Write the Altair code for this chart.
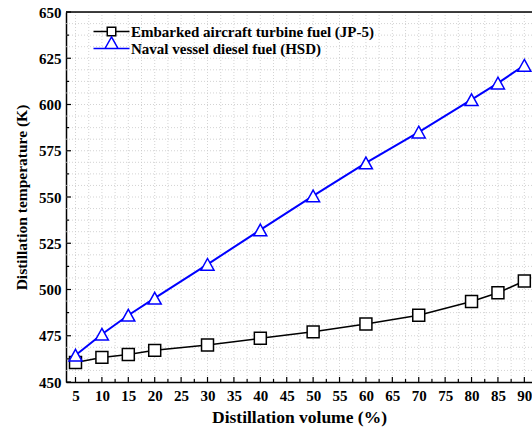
import altair as alt
import pandas as pd

# Distillation curves of the two fuels
volume = [5, 10, 15, 20, 30, 40, 50, 60, 70, 80, 85, 90]
jp5_temp = [460.5, 463.3, 464.9, 467.1, 470.0, 473.6, 477.1, 481.4, 486.1, 493.5, 498.2, 504.6]
hsd_temp = [464.5, 475.8, 486.1, 495.3, 513.6, 532.2, 550.6, 568.4, 585.1, 602.6, 611.6, 621.2]

fuel_names = ["Embarked aircraft turbine fuel (JP-5)", "Naval vessel diesel fuel (HSD)"]
fuel_colors = ["#000000", "#0000ff"]

# Axis ticks and grid positions
x_major = [5, 10, 15, 20, 25, 30, 35, 40, 45, 50, 55, 60, 65, 70, 75, 80, 85, 90]
x_minor = [7.5, 12.5, 17.5, 22.5, 27.5, 32.5, 37.5, 42.5, 47.5, 52.5, 57.5, 62.5,
           67.5, 72.5, 77.5, 82.5, 87.5]
y_major = [450, 475, 500, 525, 550, 575, 600, 625, 650]
y_minor = [462.5, 487.5, 512.5, 537.5, 562.5, 587.5, 612.5, 637.5]
x_grid = [5 + 2.5 * i for i in range(35)]
y_grid = [450 + 6.25 * i for i in range(1, 32)]

W, H = 466, 370
FONT = "Liberation Serif"

x_scale = alt.Scale(domain=[3.2, 91.45], nice=False, zero=False)
y_scale = alt.Scale(domain=[450, 650], nice=False, zero=False)

x_axis = alt.Axis(
    values=x_major, title="Distillation volume (%)", grid=False, ticks=False,
    domainColor="black", domainWidth=1.5, labelFont=FONT, labelFontSize=15,
    labelFontWeight="bold", labelColor="black", labelPadding=6, labelFlush=False,
    labelOverlap=False, titleFont=FONT, titleFontSize=17.5, titleFontWeight="bold",
    titleColor="black", titlePadding=5,
)
y_axis = alt.Axis(
    values=y_major, title="Distillation temperature (K)", grid=False, ticks=False,
    domainColor="black", domainWidth=1.5, labelFont=FONT, labelFontSize=15,
    labelFontWeight="bold", labelColor="black", labelPadding=5, labelFlush=False,
    labelOverlap=False, titleFont=FONT, titleFontSize=15.5, titleFontWeight="bold",
    titleColor="black", titlePadding=9,
)

# legend symbols: a short line with the series marker on it
sq_legend = "M-3,0H-0.71M0.71,0H3M-0.71,-0.71H0.71V0.71H-0.71Z"
tri_legend = "M-3,0H3M0,-1.92L1.08,0L-1.08,0Z"


def make_legend(symbol, y):
    return alt.Legend(
        title=None, orient="none", legendX=38, legendY=y, padding=0,
        labelFont=FONT, labelFontSize=15, labelFontWeight="bold", labelColor="black",
        labelOffset=12, labelLimit=0, symbolSize=144, symbolStrokeWidth=1.5,
        symbolFillColor="white", symbolType=symbol,
    )


xgrid = alt.Chart(pd.DataFrame({"v": x_grid})).mark_rule(
    color="#c8c8c8", strokeWidth=0.8, strokeDash=[1, 2]
).encode(x=alt.X("v:Q", scale=x_scale, axis=x_axis), y=alt.value(0), y2=alt.value(H))

ygrid = alt.Chart(pd.DataFrame({"v": y_grid})).mark_rule(
    color="#c8c8c8", strokeWidth=0.8, strokeDash=[1, 2]
).encode(y=alt.Y("v:Q", scale=y_scale, axis=y_axis), x=alt.value(0), x2=alt.value(W))

xtick_major = alt.Chart(pd.DataFrame({"v": x_major})).mark_rule(color="black", strokeWidth=1.2).encode(
    x=alt.X("v:Q", scale=x_scale, axis=x_axis), y=alt.value(H), y2=alt.value(H - 5))
xtick_minor = alt.Chart(pd.DataFrame({"v": x_minor})).mark_rule(color="black", strokeWidth=1.2).encode(
    x=alt.X("v:Q", scale=x_scale, axis=x_axis), y=alt.value(H), y2=alt.value(H - 3))
ytick_major = alt.Chart(pd.DataFrame({"v": y_major})).mark_rule(color="black", strokeWidth=1.2).encode(
    y=alt.Y("v:Q", scale=y_scale, axis=y_axis), x=alt.value(0), x2=alt.value(5))
ytick_minor = alt.Chart(pd.DataFrame({"v": y_minor})).mark_rule(color="black", strokeWidth=1.2).encode(
    y=alt.Y("v:Q", scale=y_scale, axis=y_axis), x=alt.value(0), x2=alt.value(3))

top_border = alt.Chart(pd.DataFrame({"v": [0]})).mark_rule(color="black", strokeWidth=1.5).encode(
    x=alt.value(0), x2=alt.value(W), y=alt.value(0))

marker_sq = "M-0.92,-0.92H0.92V0.92H-0.92Z"
marker_tri = "M0,-0.9L1,0.9L-1,0.9Z"


def series(temps, name, colr, line_w, marker, legend_symbol, legend_y):
    data = pd.DataFrame({"volume": volume, "temp": temps, "fuel": [name] * len(volume)})
    color = alt.Color("fuel:N", scale=alt.Scale(domain=[name], range=[colr]),
                      legend=make_legend(legend_symbol, legend_y))
    enc = dict(
        x=alt.X("volume:Q", scale=x_scale, axis=x_axis),
        y=alt.Y("temp:Q", scale=y_scale, axis=y_axis),
        color=color,
    )
    line = alt.Chart(data).mark_line(strokeWidth=line_w).encode(**enc)
    pts = alt.Chart(data).mark_point(
        shape=marker, fill="white", fillOpacity=1, opacity=1, strokeWidth=1.5, size=169
    ).encode(**enc)
    return alt.layer(line, pts)


jp5 = series(jp5_temp, fuel_names[0], fuel_colors[0], 1.5, marker_sq, sq_legend, 12)
hsd = series(hsd_temp, fuel_names[1], fuel_colors[1], 2.0, marker_tri, tri_legend, 29)

chart = alt.layer(
    xgrid, ygrid, xtick_major, xtick_minor, ytick_major, ytick_minor, top_border, jp5, hsd
).resolve_scale(color="independent").properties(
    width=W, height=H,
    autosize=alt.AutoSizeParams(type="none"),
    padding={"left": 66, "top": 12, "right": 0, "bottom": 48},
).configure_view(stroke=None).configure(background="white")

chart.save("out.html", embed_options={"renderer": "svg", "actions": False})
